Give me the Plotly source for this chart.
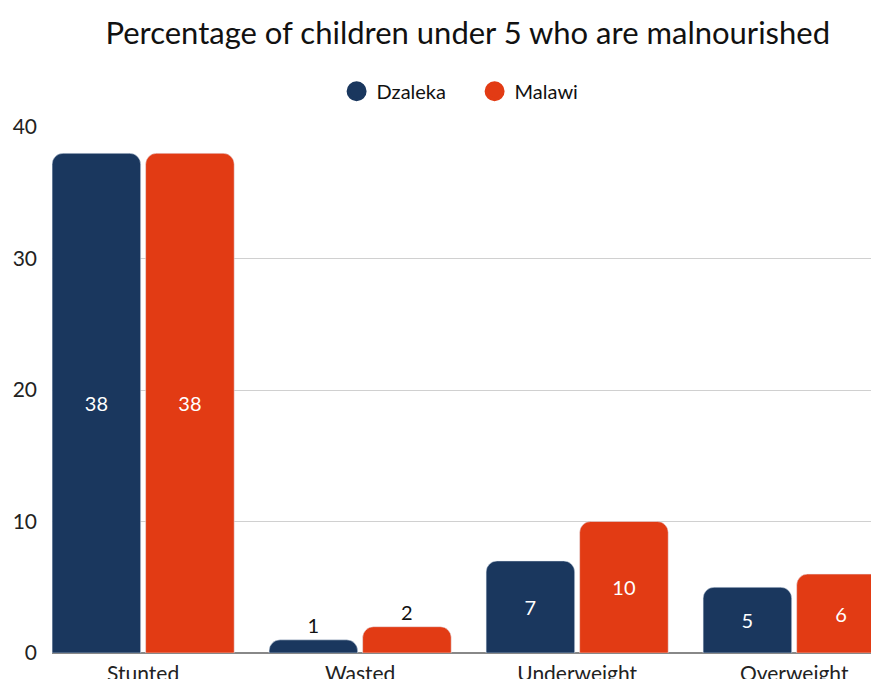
import plotly.graph_objects as go

categories = ["Stunted", "Wasted", "Underweight", "Overweight"]
dzaleka = [38, 1, 7, 5]
malawi = [38, 2, 10, 6]
series_names = ["Dzaleka", "Malawi"]
colors = ["#1a375e", "#e23b14"]
y_ticks = [0, 10, 20, 30, 40]

fig = go.Figure()
for name, vals, col in zip(series_names, [dzaleka, malawi], colors):
    fig.add_trace(go.Bar(
        x=categories, y=vals, name=name, marker_color=col,
        text=[str(v) for v in vals],
        textposition=["outside" if v < 3 else "inside" for v in vals],
        insidetextanchor="middle",
        insidetextfont=dict(color="white", size=20, family="Lato"),
        outsidetextfont=dict(color="#111111", size=20, family="Lato"),
        textangle=0, cliponaxis=False, showlegend=False,
    ))
    fig.add_trace(go.Scatter(
        x=[None], y=[None], mode="markers", name=name,
        marker=dict(symbol="circle", size=16, color=col, line=dict(color=col, width=4)),
        showlegend=True,
    ))

fig.update_layout(
    width=871, height=679,
    paper_bgcolor="white", plot_bgcolor="white",
    font=dict(family="Lato", size=20, color="#222222"),
    title=dict(text="Percentage of children under 5 who are malnourished",
               x=0.537, xanchor="center", y=0.951, yanchor="middle",
               font=dict(size=31, color="#111111", family="Lato")),
    legend=dict(orientation="h", x=0.516, xanchor="center", y=1.068, yanchor="middle",
                font=dict(size=20, color="#111111"), itemwidth=30, entrywidth=93),
    margin=dict(l=52, r=0, t=127, b=26),
    barmode="group", bargap=0.138, bargroupgap=0.053,
    barcornerradius=11,
    xaxis=dict(range=[-0.42, 3.354], showgrid=False, automargin=False,
               tickfont=dict(size=21, color="#222222"), ticks="", showline=False,
               ticklabelstandoff=6),
    yaxis=dict(range=[0, 40], tickvals=y_ticks, showgrid=True, gridcolor="#d0d0d0",
               gridwidth=1, zeroline=True, zerolinecolor="#888888", zerolinewidth=1.5,
               automargin=False, ticklabelstandoff=14,
               tickfont=dict(size=21, color="#222222")),
)

fig.write_html(
    "out.html",
    config={"displayModeBar": False},
    post_script="document.body.style.margin='0';document.body.style.overflow='hidden';",
)
